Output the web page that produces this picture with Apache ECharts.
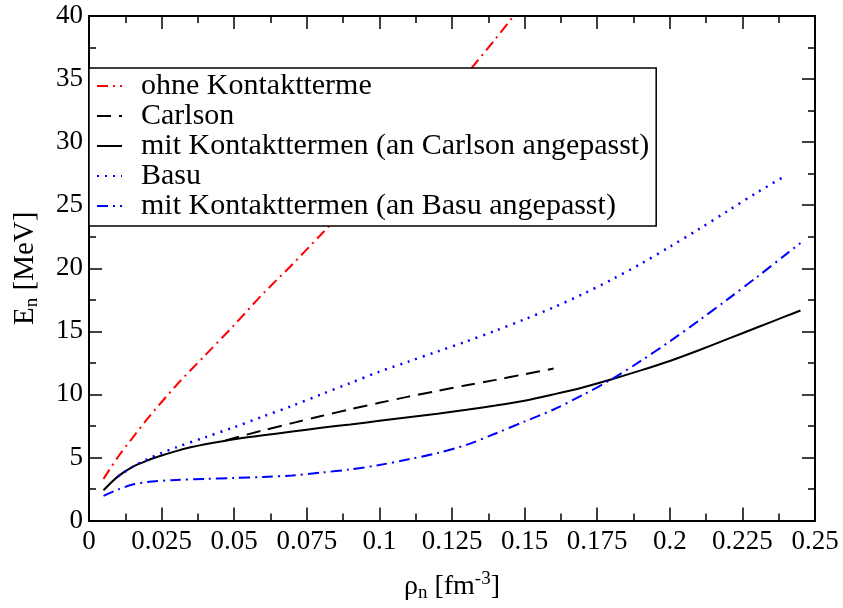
<!DOCTYPE html>
<html>
<head>
    <meta charset="utf-8">
    <title>E_n vs rho_n</title>
    <script src="https://cdn.jsdelivr.net/npm/echarts@6/dist/echarts.min.js"></script>
</head>
<body style="margin:0">
<div id="main" style="width: 843px;height:608px;background-color:#fff"></div>
<script type="text/javascript">
    // values
    var redX = [0.005, 0.01, 0.015, 0.02, 0.03, 0.04, 0.05, 0.06, 0.07, 0.08, 0.09, 0.1, 0.11, 0.12, 0.13, 0.14, 0.15];
    var redY = [3.3, 5.05, 6.55, 8.03, 10.7, 13.1, 15.5, 18.0, 20.3, 22.7, 25.1, 27.6, 30.2, 32.8, 35.4, 38.2, 41.1];

    var carlsonX = [0.047, 0.06, 0.07, 0.08, 0.09, 0.1, 0.11, 0.12, 0.13, 0.14, 0.15, 0.16];
    var carlsonY = [6.35, 7.15, 7.72, 8.28, 8.82, 9.33, 9.82, 10.28, 10.73, 11.15, 11.6, 12.05];

    var fitCX = [0.005, 0.01, 0.015, 0.02, 0.025, 0.03, 0.035, 0.04, 0.05, 0.06, 0.07, 0.08, 0.09, 0.1, 0.11, 0.12,
        0.13, 0.14, 0.15, 0.16, 0.17, 0.18, 0.19, 0.2, 0.21, 0.22, 0.23, 0.24, 0.245];
    var fitCY = [2.4, 3.5, 4.25, 4.75, 5.15, 5.5, 5.8, 6.05, 6.45, 6.75, 7.05, 7.35, 7.62, 7.9, 8.18, 8.47,
        8.78, 9.12, 9.5, 10.0, 10.55, 11.2, 11.9, 12.65, 13.5, 14.4, 15.3, 16.2, 16.65];

    var basuX = [0.01, 0.015, 0.02, 0.025, 0.03, 0.04, 0.05, 0.06, 0.07, 0.08, 0.09, 0.1, 0.11, 0.12, 0.13, 0.14,
        0.15, 0.16, 0.17, 0.18, 0.19, 0.2, 0.21, 0.22, 0.23, 0.24];
    var basuY = [3.5, 4.25, 4.85, 5.35, 5.8, 6.6, 7.4, 8.25, 9.1, 10.0, 10.9, 11.8, 12.6, 13.4, 14.2, 15.05,
        15.95, 16.9, 17.95, 19.1, 20.35, 21.7, 23.1, 24.55, 26.0, 27.35];

    var fitBX = [0.005, 0.01, 0.015, 0.02, 0.03, 0.04, 0.05, 0.06, 0.07, 0.08, 0.09, 0.1, 0.11, 0.12, 0.13, 0.14,
        0.15, 0.16, 0.17, 0.18, 0.19, 0.2, 0.21, 0.22, 0.23, 0.24, 0.245];
    var fitBY = [1.95, 2.45, 2.85, 3.05, 3.22, 3.3, 3.37, 3.45, 3.57, 3.8, 4.05, 4.4, 4.85, 5.35, 6.0, 6.9,
        7.85, 8.8, 9.95, 11.2, 12.65, 14.2, 15.85, 17.55, 19.3, 21.1, 22.0];

    var names = ['ohne Kontaktterme', 'Carlson', 'mit Kontakttermen (an Carlson angepasst)',
        'Basu', 'mit Kontakttermen (an Basu angepasst)'];

    function pairs(xs, ys) {
        return xs.map(function (x, i) { return [x, ys[i]]; });
    }

    var serif = 'Liberation Serif';
    var myChart = echarts.init(document.getElementById('main'));

    // mirrored axes (top / right) only carry ticks
    function baseAxis(extra) {
        var a = {
            type: 'value',
            axisLine: {show: true, onZero: false, lineStyle: {color: '#000', width: 2}},
            axisTick: {show: true, inside: true, length: 13, lineStyle: {color: '#000', width: 1.5}},
            minorTick: {show: true, splitNumber: 2, length: 7, lineStyle: {color: '#000', width: 1.5}},
            splitLine: {show: false},
            axisLabel: {show: false}
        };
        for (var k in extra) a[k] = extra[k];
        return a;
    }

    myChart.setOption({
        animation: false,
        grid: {left: 89, right: 28, top: 16, bottom: 83},
        legend: {
            orient: 'vertical',
            left: 89,
            top: 68,
            padding: [3, 7, 5, 7],
            itemGap: 0,
            itemWidth: 25,
            itemHeight: 14,
            backgroundColor: '#fff',
            borderColor: '#000',
            borderWidth: 1.5,
            data: names,
            // hide the marker the line legend icon adds
            itemStyle: {opacity: 0, borderWidth: 0},
            textStyle: {
                fontFamily: serif, fontSize: 30, color: '#000', lineHeight: 26,
                padding: [0, 0, 0, 14]
            }
        },
        xAxis: [
            baseAxis({
                min: 0, max: 0.25, interval: 0.025, position: 'bottom',
                axisLabel: {
                    show: true, margin: 8, fontFamily: serif, fontSize: 27, color: '#000',
                    formatter: function (v) { return String(+v.toFixed(3)); }
                },
                name: '{b|ρ}{s|n}{b| [fm}{p|-3}{b|]}',
                nameLocation: 'middle',
                nameGap: 52,
                nameTextStyle: {
                    rich: {
                        b: {fontFamily: serif, fontSize: 28, color: '#000', lineHeight: 28},
                        s: {fontFamily: serif, fontSize: 19, color: '#000', lineHeight: 18, padding: [14, 0, 0, 0]},
                        p: {fontFamily: serif, fontSize: 19, color: '#000', lineHeight: 18, padding: [0, 0, 14, 0]}
                    }
                }
            }),
            baseAxis({min: 0, max: 0.25, interval: 0.025, position: 'top'})
        ],
        yAxis: [
            baseAxis({
                min: 0, max: 40, interval: 5, position: 'left',
                axisLabel: {show: true, margin: 6, fontFamily: serif, fontSize: 27, color: '#000'},
                name: '{b|E}{s|n}{b| [MeV]}',
                nameLocation: 'middle',
                nameGap: 50,
                nameTextStyle: {
                    rich: {
                        b: {fontFamily: serif, fontSize: 29, color: '#000', lineHeight: 28},
                        s: {fontFamily: serif, fontSize: 19, color: '#000', lineHeight: 18, padding: [14, 0, 0, 0]}
                    }
                }
            }),
            baseAxis({min: 0, max: 40, interval: 5, position: 'right'})
        ],
        series: [
            {
                name: names[0], type: 'line', data: pairs(redX, redY), smooth: 0.3,
                showSymbol: false, symbol: 'none', color: '#ff0000',
                lineStyle: {color: '#ff0000', width: 2, type: [11, 5, 2, 5]}
            },
            {
                name: names[1], type: 'line', data: pairs(carlsonX, carlsonY), smooth: 0.3,
                showSymbol: false, symbol: 'none', color: '#000',
                lineStyle: {color: '#000', width: 2, type: [14, 8]}
            },
            {
                name: names[2], type: 'line', data: pairs(fitCX, fitCY), smooth: 0.3,
                showSymbol: false, symbol: 'none', color: '#000',
                lineStyle: {color: '#000', width: 2}
            },
            {
                name: names[3], type: 'line', data: pairs(basuX, basuY), smooth: 0.3,
                showSymbol: false, symbol: 'none', color: '#0000ff',
                lineStyle: {color: '#0000ff', width: 2.5, type: [2, 6]}
            },
            {
                name: names[4], type: 'line', data: pairs(fitBX, fitBY), smooth: 0.3,
                showSymbol: false, symbol: 'none', color: '#0000ff',
                lineStyle: {color: '#0000ff', width: 2, type: [11, 5, 2, 5]}
            }
        ]
    });
</script>
</body>
</html>
